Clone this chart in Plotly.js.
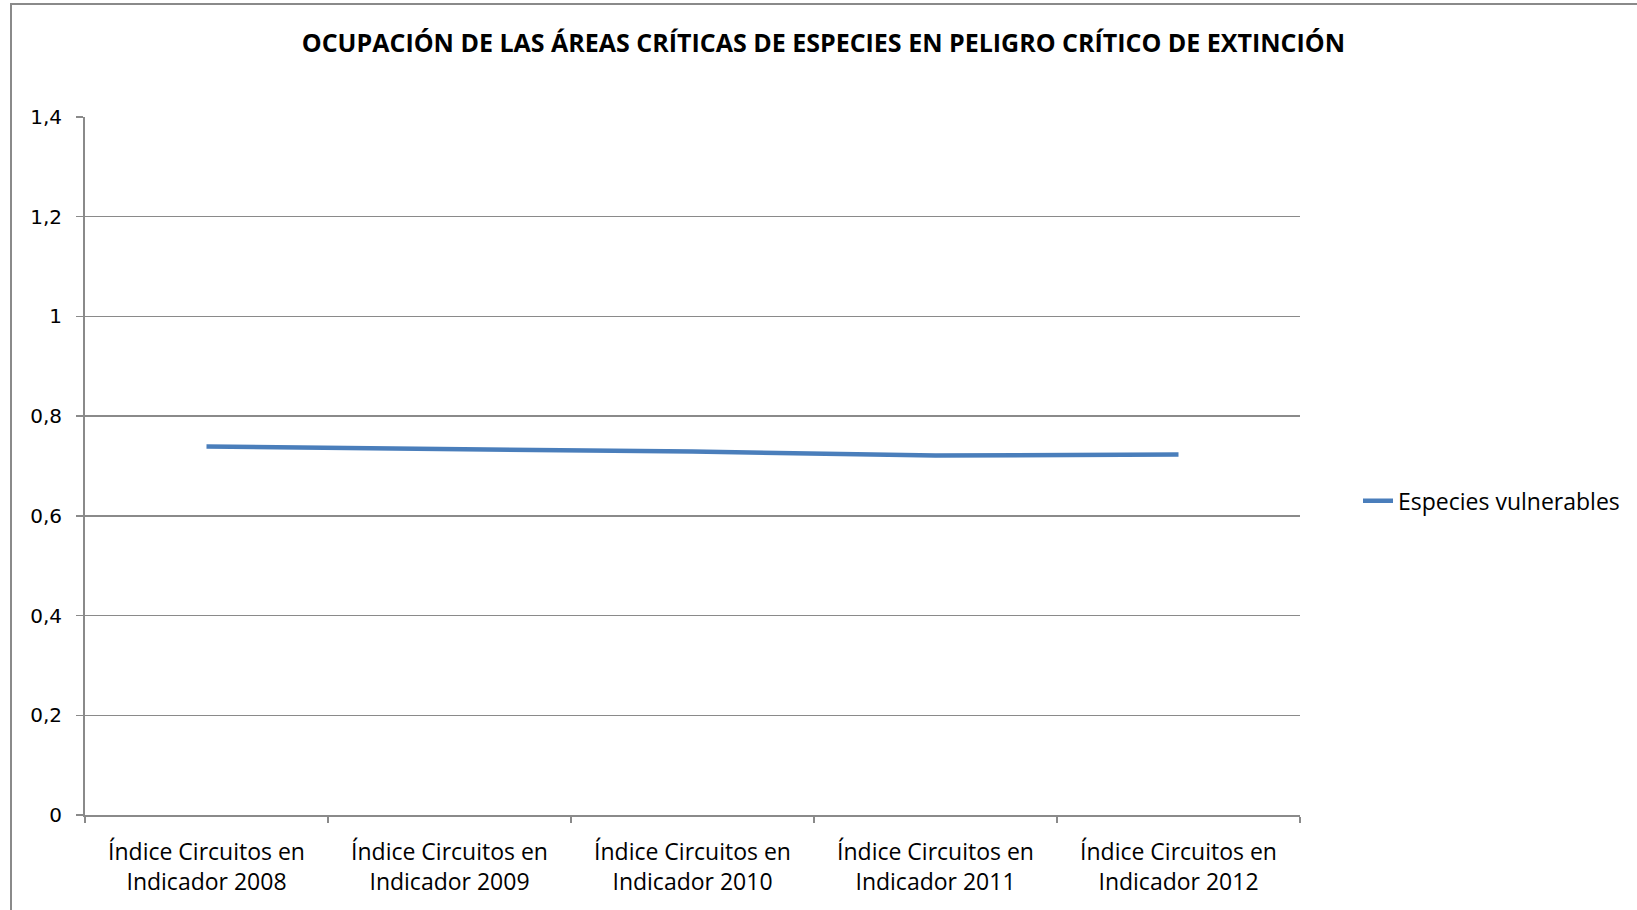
<!DOCTYPE html>
<html>
<head>
<meta charset="utf-8">
<script src="https://cdn.plot.ly/plotly-3.0.1.min.js"></script>
<style>
html,body{margin:0;padding:0;background:#fff;overflow:hidden;}
#chart{position:absolute;left:0;top:0;width:1637px;height:910px;}
#frame{position:absolute;left:10px;top:3px;width:2000px;height:2000px;border-left:2px solid #8a8a8a;border-top:2px solid #8a8a8a;pointer-events:none;}
</style>
</head>
<body>
<div id="chart"></div>
<div id="frame"></div>
<script>
const categories = [
  "Índice Circuitos en<br>Indicador 2008",
  "Índice Circuitos en<br>Indicador 2009",
  "Índice Circuitos en<br>Indicador 2010",
  "Índice Circuitos en<br>Indicador 2011",
  "Índice Circuitos en<br>Indicador 2012"
];
const especiesVulnerables = [0.739, 0.735, 0.729, 0.721, 0.723];
const seriesName = "Especies vulnerables";
const chartTitle = "OCUPACIÓN DE LAS ÁREAS CRÍTICAS DE ESPECIES EN PELIGRO CRÍTICO DE EXTINCIÓN";
const yTicks = [0, 0.2, 0.4, 0.6, 0.8, 1, 1.2, 1.4];

const trace = {
  type: "scatter",
  mode: "lines",
  x: categories,
  y: especiesVulnerables,
  name: seriesName,
  line: {color: "#4a7ebb", width: 4.5},
  showlegend: true
};

const layout = {
  width: 1637,
  height: 910,
  separators: ",.",
  paper_bgcolor: "#ffffff",
  plot_bgcolor: "#ffffff",
  margin: {l: 85, r: 337, t: 117, b: 95},
  font: {family: "Open Sans, sans-serif", color: "#000"},
  title: {
    text: "<b>" + chartTitle + "</b>",
    x: 0.503, xanchor: "center",
    y: 0.953, yanchor: "middle",
    font: {family: "Open Sans, sans-serif", size: 25, color: "#000"}
  },
  xaxis: {
    type: "category",
    range: [-0.5, 4.5],
    tickson: "boundaries",
    ticks: "outside",
    ticklen: 6,
    tickcolor: "#8a8a8a",
    tickwidth: 1.5,
    showline: true,
    linecolor: "#8a8a8a",
    linewidth: 2,
    showgrid: false,
    ticklabelstandoff: 15,
    tickfont: {family: "Open Sans, sans-serif", size: 23, color: "#000"},
    automargin: false
  },
  yaxis: {
    range: [0, 1.4],
    tickvals: yTicks,
    ticks: "outside",
    ticklen: 7,
    tickcolor: "#8a8a8a",
    tickwidth: 1.5,
    showline: true,
    linecolor: "#8a8a8a",
    linewidth: 2,
    showgrid: true,
    gridcolor: "#8a8a8a",
    gridwidth: 1.5,
    zeroline: false,
    ticklabelstandoff: 10,
    tickfont: {family: "DejaVu Sans, sans-serif", size: 20, color: "#000"},
    automargin: false
  },
  legend: {
    x: (1358 - 85) / (1637 - 85 - 337),
    xanchor: "left",
    y: 0.45,
    yanchor: "middle",
    bgcolor: "rgba(0,0,0,0)",
    borderwidth: 0,
    font: {family: "Open Sans, sans-serif", size: 23, color: "#000"}
  }
};

Plotly.newPlot("chart", [trace], layout, {displayModeBar: false, staticPlot: true});
</script>
</body>
</html>
